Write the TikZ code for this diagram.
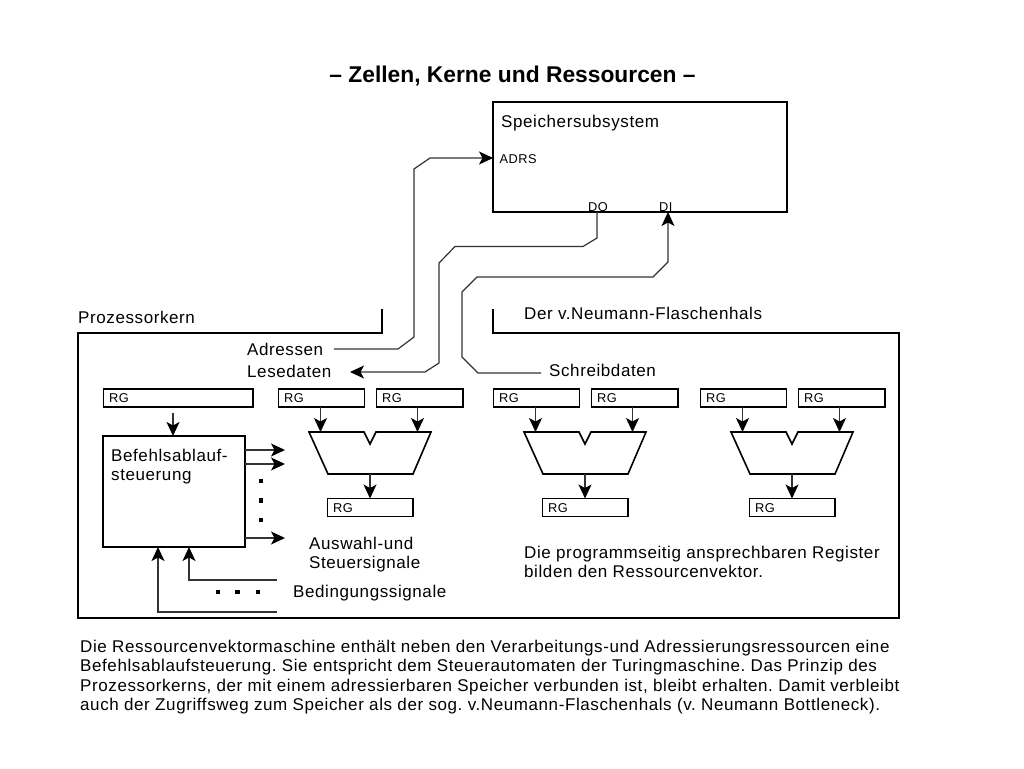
\documentclass[tikz,border=0pt]{standalone}
\usepackage{fontspec}
\setmainfont{Liberation Sans}
\usetikzlibrary{arrows.meta,calc}
\newfontfamily\spaced[LetterSpace=3.5]{Liberation Sans}
\definecolor{wire}{gray}{0.2}
\tikzset{
  frame/.style={line width=1.8pt,draw=black},
  rgbox/.style={draw=black,line width=1.6pt,minimum height=18pt,inner sep=0pt,outer sep=0pt,fill=white},
  rgtext/.style={anchor=base west,inner sep=0pt,font=\fontsize{12.8}{14}\selectfont\spaced},
  lbl/.style={anchor=base west,inner sep=0pt,font=\fontsize{17}{19.4}\selectfont\spaced},
  blk/.style={anchor=north west,inner sep=0pt,align=left,font=\fontsize{17}{19.4}\selectfont\spaced\frenchspacing},
  wirearrow/.style={line width=1.2pt,draw=wire,-{Stealth[length=14pt,width=13pt,inset=3.5pt,color=black]}},
  dot/.style={fill=black,inner sep=0pt,outer sep=0pt,minimum size=4.6pt}
}
\begin{document}
\begin{tikzpicture}[x=1pt,y=-1pt]
\useasboundingbox[fill=white] (0,0) rectangle (1024,768);
\node[anchor=base,inner sep=0pt,font=\fontsize{22.8}{26}\selectfont\bfseries] (title) at (512.5,82) {-- Zellen, Kerne und Ressourcen --};

% memory
\node[draw=black,line width=1.8pt,minimum width=294pt,minimum height=110pt,inner sep=0pt,outer sep=0pt,anchor=north west] (mem) at (493,102) {};
\node[lbl] (memt) at (501,127) {Speichersubsystem};
\node[rgtext] (adrs) at (499.5,163) {ADRS};
\node[rgtext] (dout) at (588,211) {DO};
\node[rgtext] (din) at (659,211) {DI};

% core frame
\coordinate (fa) at (382,309);
\coordinate (fb) at (493,309);
\draw[frame,line join=miter] (fa) -- (382,333) -- (78,333) -- (78,618) -- (899,618) -- (899,333) -- (493,333) -- (fb);
\node[lbl] (proz) at (78,323) {Prozessorkern};
\node[lbl] (neu) at (524,319) {Der v.Neumann-Flaschenhals};
\node[lbl] (adr) at (247,355) {Adressen};
\node[lbl] (les) at (247,377) {Lesedaten};
\node[lbl] (sch) at (549,376) {Schreibdaten};

% bus connectors
\coordinate (adrstart) at (334,349);
\coordinate (lesend) at (350,372);
\coordinate (schstart) at (541,373);
\coordinate (memadrs) at (mem.west |- 0,158);
\coordinate (memdo) at (597,212);
\coordinate (memdi) at (668,212);
\draw[wirearrow] (adrstart) -- (398,349) -- (414,337) -- (414,169) -- (430,158) -- (memadrs);
\draw[wirearrow] (memdo) -- (597,238) -- (583,246.5) -- (455,246.5) -- (439,263) -- (439,363) -- (425,372) -- (lesend);
\draw[wirearrow] (schstart) -- (478,373) -- (462,357) -- (462,292) -- (477,277) -- (653,277) -- (668,262) -- (memdi);

% control unit
\node[rgbox,minimum width=149.5pt,anchor=north west] (rg0) at (103.5,389) {};
\node[rgtext] (rg0t) at (109,402) {RG};
\node[draw=black,line width=1.6pt,minimum width=142pt,minimum height=111pt,inner sep=0pt,outer sep=0pt,anchor=north west] (ctl) at (103,436) {};
\node[blk] (ctlt) at (111,448.5) {Befehlsablauf-\\steuerung};
\coordinate (rg0arrow) at (173,413);
\draw[wirearrow] (rg0arrow) -- (rg0arrow |- ctl.north);

\foreach \n/\y in {s1/450,s2/464,s3/538}{
  \coordinate (\n a) at (ctl.east |- 0,\y);
  \coordinate (\n b) at (285,\y);
  \draw[wirearrow] (\n a) -- (\n b);
}
\foreach \n/\y in {1/481,2/500.5,3/520}{
  \node[dot] (vd\n) at (261,\y) {};
}
\foreach \n/\x in {1/218,2/237.5,3/258}{
  \node[dot] (hd\n) at (\x,592) {};
}
\coordinate (c1s) at (277,580);
\coordinate (c2s) at (277,612);
\draw[wirearrow] (c1s) -- (189,580) -- (189,547);
\draw[wirearrow] (c2s) -- (158,612) -- (158,547);

\node[blk] (ausw) at (309,537) {Auswahl-und\\Steuersignale};
\node[lbl] (bed) at (293,597) {Bedingungssignale};
\node[blk] (res) at (524,545.5) {Die programmseitig ansprechbaren Register\\bilden den Ressourcenvektor.};

% register / ALU groups
\foreach \g/\d in {1/0,2/215,3/422}{
  \begin{scope}[xshift=\d pt]
    \node[rgbox,minimum width=86pt,anchor=north west] (ra\g) at (278.5,389) {};
    \node[rgbox,minimum width=86.5pt,anchor=north west] (rb\g) at (376.5,389) {};
    \node[rgbox,minimum width=85.5pt,anchor=north west] (ro\g) at (327.5,498.5) {};
    \node[rgtext] (rat\g) at (284,402) {RG};
    \node[rgtext] (rbt\g) at (382,402) {RG};
    \node[rgtext] (rot\g) at (333,512) {RG};
    \draw[line width=1.6pt,line join=miter] (309,432) -- (364,432) -- (370,444) -- (376,432) -- (431,432) -- (413,474) -- (328,474) -- cycle;
    \coordinate (ia\g) at (320.5,432);
    \coordinate (ib\g) at (417.5,432);
    \coordinate (oa\g) at (370,474);
    \draw[wirearrow] (ia\g |- ra\g.south) -- (ia\g);
    \draw[wirearrow] (ib\g |- rb\g.south) -- (ib\g);
    \draw[wirearrow] (oa\g) -- (oa\g |- ro\g.north);
  \end{scope}
}

\node[blk] (para) at (80,640) {Die Ressourcenvektormaschine enthält neben den Verarbeitungs-und Adressierungsressourcen eine\\Befehlsablaufsteuerung. Sie entspricht dem Steuerautomaten der Turingmaschine. Das Prinzip des\\Prozessorkerns, der mit einem adressierbaren Speicher verbunden ist, bleibt erhalten. Damit verbleibt\\auch der Zugriffsweg zum Speicher als der sog. v.Neumann-Flaschenhals (v. Neumann Bottleneck).};
\end{tikzpicture}
\end{document}
